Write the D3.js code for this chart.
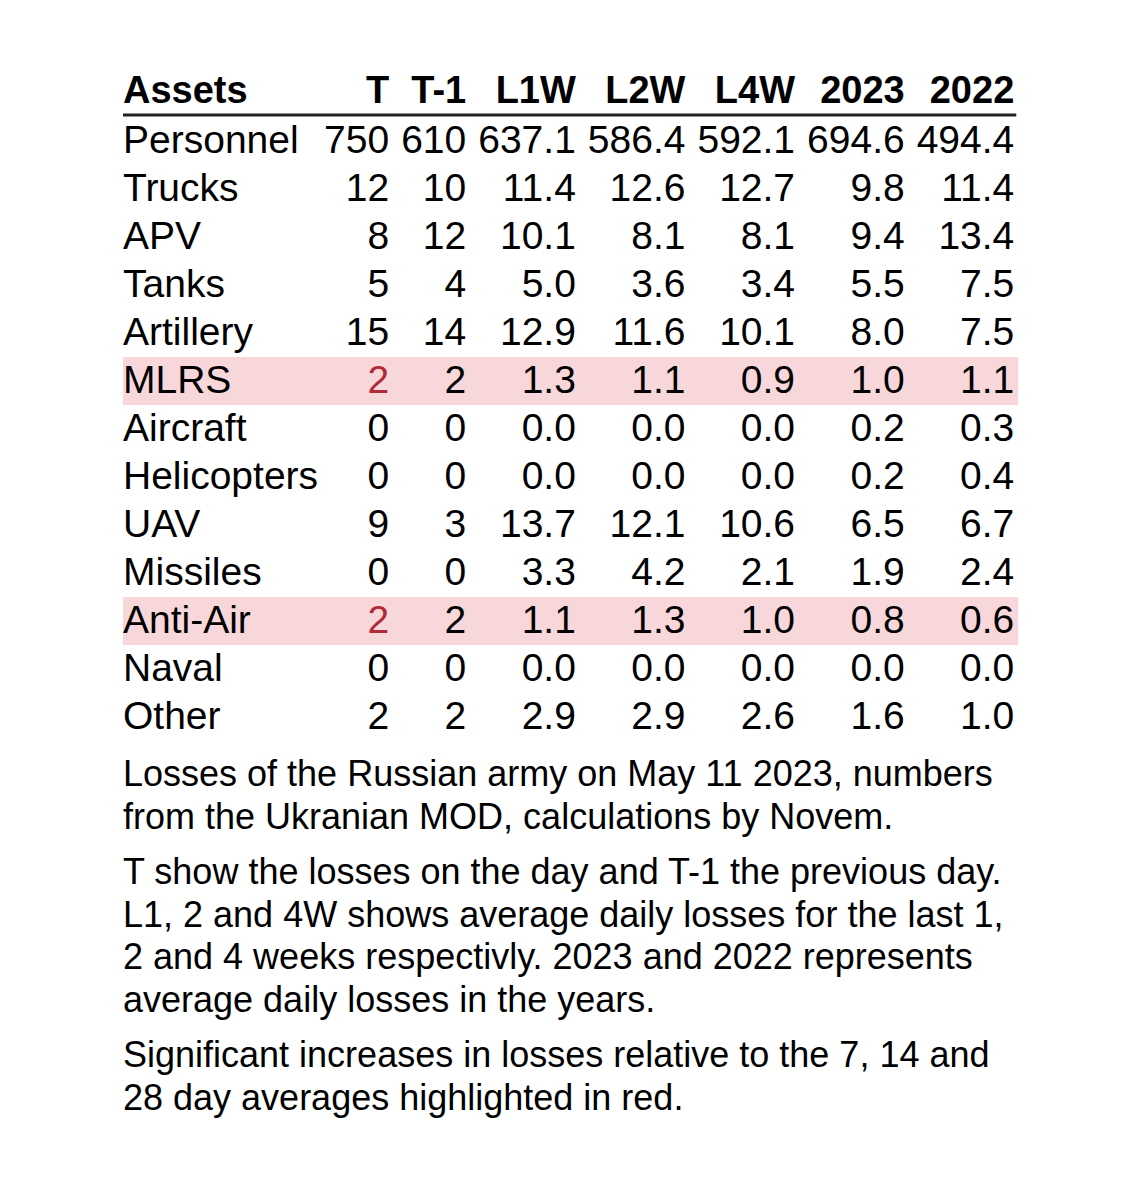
<!DOCTYPE html>
<html>
<head>
<meta charset="utf-8">
<script src="https://cdn.jsdelivr.net/npm/d3@7"></script>
<style>
  body { margin: 0; background: #fff; }
  svg { display: block; }
</style>
</head>
<body>
<svg id="chart"></svg>
<script>
// ---- data ----
var columns = ["T", "T-1", "L1W", "L2W", "L4W", "2023", "2022"];
var assets = ["Personnel", "Trucks", "APV", "Tanks", "Artillery", "MLRS", "Aircraft",
  "Helicopters", "UAV", "Missiles", "Anti-Air", "Naval", "Other"];
var valT    = [750, 12, 8, 5, 15, 2, 0, 0, 9, 0, 2, 0, 2];
var valT1   = [610, 10, 12, 4, 14, 2, 0, 0, 3, 0, 2, 0, 2];
var valL1W  = [637.1, 11.4, 10.1, 5.0, 12.9, 1.3, 0.0, 0.0, 13.7, 3.3, 1.1, 0.0, 2.9];
var valL2W  = [586.4, 12.6, 8.1, 3.6, 11.6, 1.1, 0.0, 0.0, 12.1, 4.2, 1.3, 0.0, 2.9];
var valL4W  = [592.1, 12.7, 8.1, 3.4, 10.1, 0.9, 0.0, 0.0, 10.6, 2.1, 1.0, 0.0, 2.6];
var val2023 = [694.6, 9.8, 9.4, 5.5, 8.0, 1.0, 0.2, 0.2, 6.5, 1.9, 0.8, 0.0, 1.6];
var val2022 = [494.4, 11.4, 13.4, 7.5, 7.5, 1.1, 0.3, 0.4, 6.7, 2.4, 0.6, 0.0, 1.0];
// rows where T is a significant increase
var highlighted = ["MLRS", "Anti-Air"];

var captions = [
  ["Losses of the Russian army on May 11 2023, numbers",
   "from the Ukranian MOD, calculations by Novem."],
  ["T show the losses on the day and T-1 the previous day.",
   "L1, 2 and 4W shows average daily losses for the last 1,",
   "2 and 4 weeks respectivly. 2023 and 2022 represents",
   "average daily losses in the years."],
  ["Significant increases in losses relative to the 7, 14 and",
   "28 day averages highlighted in red."]
];

// ---- layout ----
var width = 1140, height = 1182;
var left = 123;
var font = "'Liberation Sans', Arial, Helvetica, sans-serif";
var headSize = 38, bodySize = 39, capSize = 36;
var rowH = 48, tableTop = 117;
var hiFill = "#f8d7da", hiText = "#b02a37";

var series = [valT, valT1, valL1W, valL2W, valL4W, val2023, val2022];
var fmt = [d3.format("d"), d3.format("d"), d3.format(".1f"), d3.format(".1f"),
  d3.format(".1f"), d3.format(".1f"), d3.format(".1f")];

var svg = d3.select("#chart")
  .attr("width", width)
  .attr("height", height)
  .style("font-family", font);

// measure text to size columns, like a table would
var probe = svg.append("text").style("font-size", bodySize);
function textW(s, size, weight) {
  probe.style("font-size", size).style("font-weight", weight || "normal").text(s);
  return probe.node().getComputedTextLength();
}

var labelW = d3.max(assets, function(a) { return textW(a, bodySize); });
labelW = Math.max(labelW, textW("Assets", headSize, "bold"));
var colW = columns.map(function(c, i) {
  var w = d3.max(series[i], function(v) { return textW(fmt[i](v), bodySize); });
  return Math.max(w, textW(c, headSize, "bold"));
});
probe.remove();

var firstGap = 6, gap = 12;
var rightEdges = [];
var cur = left + labelW + firstGap;
colW.forEach(function(w, i) {
  cur += (i ? gap : 0) + w;
  rightEdges.push(cur);
});
var tableRight = cur + 4;

var x = d3.scaleOrdinal().domain(columns).range(rightEdges);
var y = d3.scaleBand()
  .domain(assets)
  .range([tableTop, tableTop + rowH * assets.length])
  .padding(0);

// highlight bands
svg.append("g").selectAll("rect")
  .data(highlighted)
  .join("rect")
  .attr("x", left)
  .attr("y", function(d) { return y(d); })
  .attr("width", tableRight - left)
  .attr("height", y.bandwidth())
  .attr("fill", hiFill);

// header
var head = svg.append("g")
  .style("font-size", headSize)
  .style("font-weight", "bold");

head.append("text")
  .attr("x", left)
  .attr("y", 103)
  .text("Assets");

head.selectAll("text.col")
  .data(columns)
  .join("text")
  .attr("class", "col")
  .attr("x", function(d) { return x(d); })
  .attr("y", 103)
  .attr("text-anchor", "end")
  .text(function(d) { return d; });

svg.append("line")
  .attr("x1", left)
  .attr("x2", tableRight - 2)
  .attr("y1", 115)
  .attr("y2", 115)
  .attr("stroke", "#222")
  .attr("stroke-width", 3);

// body rows
var rows = svg.append("g")
  .style("font-size", bodySize)
  .selectAll("g")
  .data(assets)
  .join("g")
  .attr("transform", function(d) { return "translate(0," + (y(d) + 36) + ")"; });

rows.append("text")
  .attr("x", left)
  .text(function(d) { return d; });

rows.selectAll("text.val")
  .data(function(a, r) {
    return columns.map(function(c, i) {
      return { col: c, i: i, v: series[i][r], red: i === 0 && highlighted.indexOf(a) >= 0 };
    });
  })
  .join("text")
  .attr("class", "val")
  .attr("x", function(d) { return x(d.col); })
  .attr("text-anchor", "end")
  .attr("fill", function(d) { return d.red ? hiText : "#000"; })
  .text(function(d) { return fmt[d.i](d.v); });

// captions
var lineH = 42.5, paraGap = 13;
var capY = 786;
var cap = svg.append("g").style("font-size", capSize);
captions.forEach(function(para) {
  para.forEach(function(line) {
    cap.append("text")
      .attr("x", left)
      .attr("y", capY)
      .text(line);
    capY += lineH;
  });
  capY += paraGap;
});
</script>
</body>
</html>
